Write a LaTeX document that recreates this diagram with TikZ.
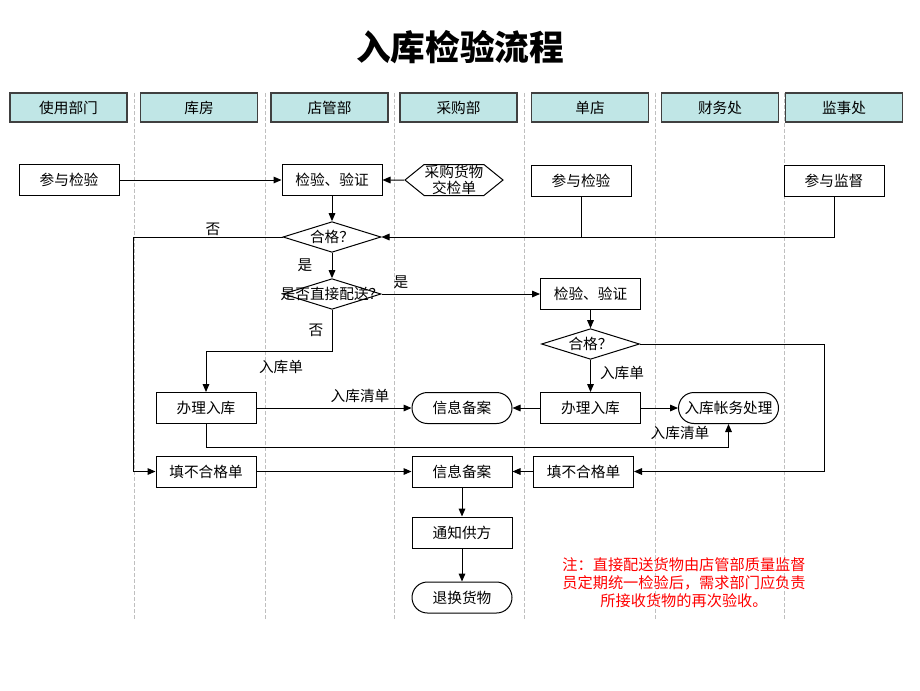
\documentclass[tikz,border=0pt]{standalone}
\usepackage{fontspec}
\setmainfont{Noto Sans CJK SC}
\usetikzlibrary{shapes.geometric, shapes.symbols, arrows.meta}
\definecolor{lanecyan}{RGB}{192,230,230}
\definecolor{notered}{RGB}{255,0,0}

\begin{document}
\begin{tikzpicture}[x=0.75pt,y=0.75pt,yscale=-1,xscale=1,
  every node/.style={font=\fontsize{11}{12}\selectfont},
  lanehead/.style={draw=black!75, fill=lanecyan, line width=0.9pt, minimum width=87.75pt, minimum height=21.75pt, inner sep=0pt},
  proc/.style={draw, line width=0.75pt, minimum width=75pt, minimum height=23.25pt, inner sep=0pt},
  term/.style={proc, rounded corners=11.6pt},
  decide/.style={draw, diamond, line width=0.75pt, aspect=3.2, minimum width=73.5pt, minimum height=23pt, inner sep=0pt},
  docket/.style={draw, shape=signal, signal to=west and east, signal pointer angle=78, line width=0.75pt, minimum width=73.5pt, minimum height=23.25pt, inner sep=0pt, align=center},
  link/.style={line width=0.75pt},
  flow/.style={link, -{Triangle[length=6pt, width=5pt]}},
  sep/.style={draw=gray!50, dash pattern=on 3pt off 1.5pt, line width=0.6pt}
]
\useasboundingbox (0,0) rectangle (920,690);

% Title
\node[font=\fontsize{26}{30}\selectfont\bfseries] (title) at (460,47) {入库检验流程};

% Lane separators
\foreach \x in {134,265,394,524,655,784} {
  \draw[sep] (\x,93) -- (\x,620);
}

% Lane heads
\node[lanehead] (userdept) at (68.5,107.5) {使用部门};
\node[lanehead] (store) at (199,107.5) {库房};
\node[lanehead] (shopmgr) at (329.5,107.5) {店管部};
\node[lanehead] (purchase) at (458.5,107.5) {采购部};
\node[lanehead] (shop) at (590,107.5) {单店};
\node[lanehead] (finance) at (720,107.5) {财务处};
\node[lanehead] (audit) at (844,107.5) {监事处};

% Process nodes
\node[proc] (joinuse) at (69,180) {参与检验};
\node[proc] (check1) at (332,180) {检验、验证};
\node[docket] (order) at (454,180) {采购货物\\交检单};
\node[proc] (joinshop) at (581,180.5) {参与检验};
\node[proc] (supervise) at (834,180.5) {参与监督};
\node[decide] (ok1) at (332,237) {合格？};
\node[decide, label=center:{是否直接配送？}] (direct) at (332,294) {};
\node[proc] (check2) at (590.5,294) {检验、验证};
\node[decide] (ok2) at (590.5,344) {合格？};
\node[proc] (in1) at (206,408) {办理入库};
\node[term] (info1) at (462,408) {信息备案};
\node[proc] (in2) at (590.5,408) {办理入库};
\node[term] (acct) at (728.5,408) {入库帐务处理};
\node[proc] (fail1) at (206,471.5) {填不合格单};
\node[proc] (info2) at (462,471.5) {信息备案};
\node[proc] (fail2) at (583.5,471.5) {填不合格单};
\node[proc] (notify) at (462,532.5) {通知供方};
\node[term] (swap) at (462,597.5) {退换货物};

% Text Node
\node (no1) at (213,229) {否};
\node (yes1) at (305,265) {是};
\node (yes2) at (401,282) {是};
\node (no2) at (316,330) {否};
\node (slip1) at (281,367) {入库单};
\node (list1) at (360,396) {入库清单};
\node (slip2) at (622,373) {入库单};
\node (list2) at (680,433) {入库清单};
\node[text=notered, align=center, font=\fontsize{11.4}{13.5}\selectfont] (note) at (684,583)
  {注：直接配送货物由店管部质量监督\\员定期统一检验后，需求部门应负责\\所接收货物的再次验收。};

% Connectors
\coordinate (leftturn) at (133,237);
\coordinate (noturn) at (332,351);
\coordinate (rightturn) at (824,344);
\coordinate (lowturn) at (206,447);
\draw[flow] (joinuse) -- (check1);
\draw[flow] (order) -- (check1);
\draw[flow] (check1) -- (ok1);
\draw[flow] (supervise.south) |- (ok1.east);
\draw[link] (joinshop.south) -- (joinshop.south |- ok1.east);
\draw[flow] (ok1.west) -- (leftturn) |- (fail1.west);
\draw[flow] (ok1) -- (direct);
\draw[flow] (direct.east) -- (check2.west);
\draw[flow] (direct.south) -- (noturn) -| (in1.north);
\draw[flow] (check2) -- (ok2);
\draw[flow] (ok2) -- (in2);
\draw[flow] (ok2.east) -- (rightturn) |- (fail2.east);
\draw[flow] (in1) -- (info1);
\draw[flow] (in2) -- (info1);
\draw[flow] (in2) -- (acct);
\draw[flow] (in1.south) -- (lowturn) -| (acct.south);
\draw[flow] (fail1) -- (info2);
\draw[flow] (fail2) -- (info2);
\draw[flow] (info2) -- (notify);
\draw[flow] (notify) -- (swap);

\end{tikzpicture}
\end{document}
